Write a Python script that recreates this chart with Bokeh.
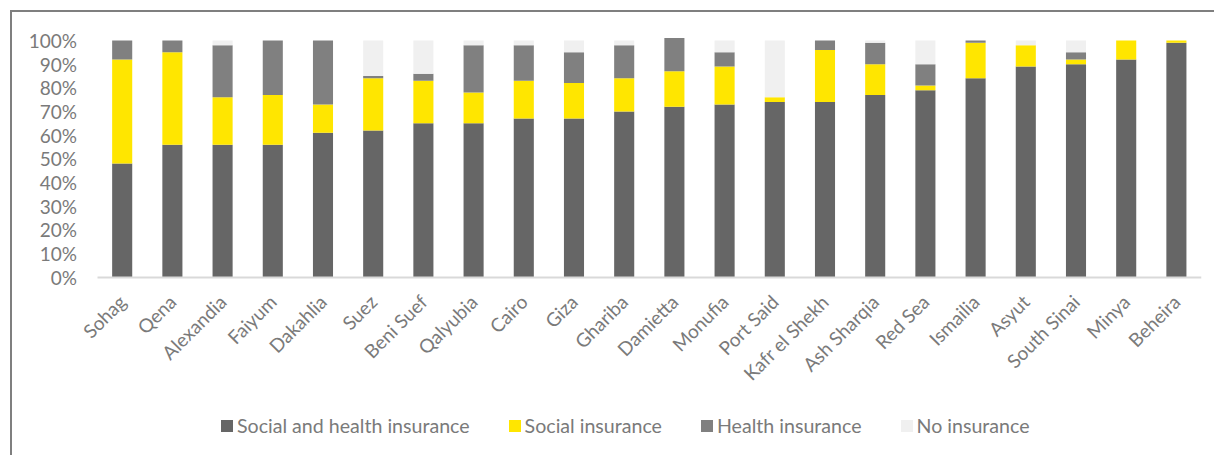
import math
from bokeh.plotting import figure
from bokeh.models import (Legend, LegendItem, NumeralTickFormatter, FixedTicker, Range1d)
from bokeh.embed import file_html
from bokeh.resources import INLINE

regions = ["Sohag", "Qena", "Alexandia", "Faiyum", "Dakahlia", "Suez", "Beni Suef",
           "Qalyubia", "Cairo", "Giza", "Ghariba", "Damietta", "Monufia", "Port Said",
           "Kafr el Shekh", "Ash Sharqia", "Red Sea", "Ismailia", "Asyut", "South Sinai",
           "Minya", "Beheira"]
social_health = [48, 56, 56, 56, 61, 62, 65, 65, 67, 67, 70, 72, 73, 74, 74, 77, 79, 84, 89, 90, 92, 99]
social_only = [44, 39, 20, 21, 12, 22, 18, 13, 16, 15, 14, 15, 16, 2, 22, 13, 2, 15, 9, 2, 8, 1]
health_only = [8, 5, 22, 23, 27, 1, 3, 20, 15, 13, 14, 14, 6, 0, 4, 9, 9, 1, 0, 3, 0, 0]
no_insurance = [0, 0, 2, 0, 0, 15, 14, 2, 2, 5, 2, 0, 5, 24, 0, 1, 10, 0, 2, 5, 0, 0]

series_names = ["Social and health insurance", "Social insurance", "Health insurance", "No insurance"]
series_keys = ["sh", "s", "h", "n"]
colors = ["#666666", "#FFE600", "#808080", "#F0F0F0"]
y_ticks = [i / 10 for i in range(11)]

positions = list(range(len(regions)))
data = {"pos": positions,
        "sh": [v / 100 for v in social_health],
        "s": [v / 100 for v in social_only],
        "h": [v / 100 for v in health_only],
        "n": [v / 100 for v in no_insurance]}

FONT = "Lato"
TXT = "#7a7a7a"

n = len(regions)
# frame covers the whole chart box: axes are pinned inside it
p = figure(x_range=Range1d(-2.185, n - 0.5), y_range=Range1d(-0.7618, 1.076),
           width=1204, height=445, output_backend="svg", toolbar_location=None,
           min_border_left=0, min_border_right=15, min_border_top=10, min_border_bottom=0)
p.styles = {"border-top": "2px solid #7f7f7f", "border-left": "2px solid #7f7f7f",
            "margin-left": "10px", "margin-top": "10px"}

renderers = p.vbar_stack(series_keys, x="pos", width=0.4, color=colors, source=data,
                         line_width=0)

p.grid.visible = False
p.outline_line_color = None

p.yaxis.fixed_location = -0.5
p.yaxis.ticker = FixedTicker(ticks=y_ticks)
p.yaxis.formatter = NumeralTickFormatter(format="0%")
p.yaxis.axis_line_color = None
p.yaxis.major_tick_line_color = None
p.yaxis.minor_tick_line_color = None
p.yaxis.major_tick_out = 0
p.yaxis.major_label_standoff = 20
p.yaxis.major_label_text_font = FONT
p.yaxis.major_label_text_font_size = "19px"
p.yaxis.major_label_text_color = TXT

p.xaxis.fixed_location = 0
p.xaxis.bounds = (-0.5, n - 0.5)
p.xaxis.ticker = FixedTicker(ticks=positions)
p.xaxis.major_label_overrides = {i: r for i, r in zip(positions, regions)}
p.xaxis.axis_line_color = "#d9d9d9"
p.xaxis.axis_line_width = 2
p.xaxis.major_tick_line_color = None
p.xaxis.minor_tick_line_color = None
p.xaxis.major_tick_out = 0
p.xaxis.major_label_orientation = math.pi / 4
p.xaxis.major_label_standoff = 21
p.xaxis.major_label_text_font = FONT
p.xaxis.major_label_text_font_size = "19px"
p.xaxis.major_label_text_color = TXT

items = [LegendItem(label=nm, renderers=[r]) for nm, r in zip(series_names, renderers)]
legend = Legend(items=items, orientation="horizontal", location=(207, 20),
                border_line_color=None, background_fill_alpha=0, padding=0, margin=0,
                glyph_width=15, glyph_height=15, label_standoff=3, spacing=37,
                label_text_font=FONT, label_text_font_size="19.6px", label_text_color=TXT,
                label_height=20)
p.add_layout(legend)

open("out.html", "w").write(file_html(p, INLINE))
